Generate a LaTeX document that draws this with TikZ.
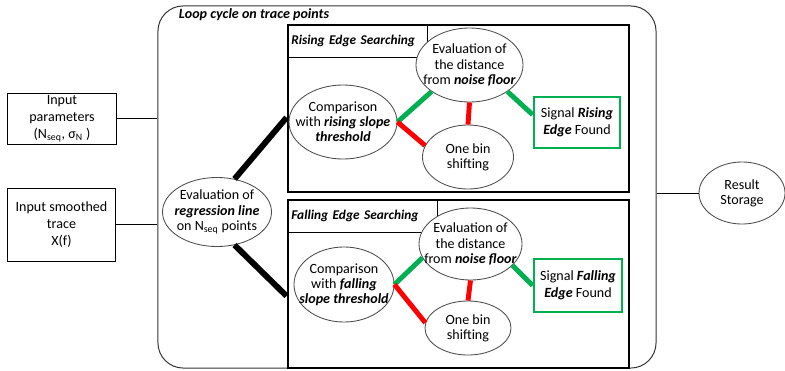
\documentclass[tikz,border=0pt]{standalone}
\usepackage{fontspec}
\setmainfont{Carlito}
\usetikzlibrary{shapes.geometric}
\definecolor{okgreen}{HTML}{00B050}
\definecolor{okred}{HTML}{FF0000}

\begin{document}
\begin{tikzpicture}[x=0.025cm, y=-0.025cm,
  every node/.style={font=\fontsize{10}{12}\selectfont},
  inbox/.style={draw, line width=0.7pt, align=center, inner sep=0pt},
  ell/.style={ellipse, draw=black!70, line width=0.6pt, fill=white, align=center, inner sep=-20pt, font=\fontsize{10}{10.8}\selectfont},
  searchbox/.style={draw, line width=2pt},
  headbox/.style={draw, line width=0.7pt, anchor=north west, inner xsep=3pt, align=left, font=\fontsize{9.5}{11}\selectfont\bfseries\itshape},
  foundbox/.style={draw=okgreen, line width=2pt, align=center, inner sep=0pt},
  yes/.style={okgreen, line width=3.5pt},
  no/.style={okred, line width=3.5pt},
  feed/.style={line width=4.2pt}]

\useasboundingbox (0,0) rectangle (785,370);

% loop frame
\node[draw=black!80, line width=0.7pt, rounded corners=18pt, minimum width=12.45cm, minimum height=9.05cm] (loop) at (407,187) {};
\node[anchor=west, font=\fontsize{10}{12}\selectfont\bfseries\itshape] (looptitle) at (174,15) {Loop cycle on trace points};

% searching blocks
\node[searchbox, minimum width=8.525cm, minimum height=4.175cm] (rise) at (458.5,108.5) {};
\node[headbox, text width=3.31cm, minimum height=0.825cm] (risehead) at (rise.north west) {Rising Edge Searching};
\node[searchbox, minimum width=8.525cm, minimum height=4.2cm] (fall) at (458.5,284) {};
\node[headbox, text width=3.54cm, minimum height=0.825cm] (fallhead) at (fall.north west) {Falling Edge Searching};

% rising edge
\node[ell, minimum width=2.7cm, minimum height=1.85cm] (cmpR) at (343,122) {Comparison\\with \textbf{\textit{rising slope}}\\\textbf{\textit{threshold}}};
\node[ell, minimum width=2.675cm, minimum height=1.85cm] (evalR) at (469.5,65) {Evaluation of\\the distance\\from \textbf{\textit{noise floor}}};
\node[ell, minimum width=2.275cm, minimum height=1.6cm] (binR) at (468,157) {One bin\\shifting};
\node[foundbox, minimum width=2.15cm, minimum height=1.275cm] (sigR) at (577,122.5) {Signal \textbf{\textit{Rising}}\\\textbf{\textit{Edge}} Found};

% falling edge
\node[ell, minimum width=2.5cm, minimum height=1.875cm] (cmpF) at (344,284.5) {Comparison\\with \textbf{\textit{falling}}\\\textbf{\textit{slope threshold}}};
\node[ell, minimum width=2.575cm, minimum height=1.8cm] (evalF) at (470.5,244) {Evaluation of\\the distance\\from \textbf{\textit{noise floor}}};
\node[ell, minimum width=2.15cm, minimum height=1.35cm] (binF) at (468,328) {One bin\\shifting};
\node[foundbox, minimum width=2.2cm, minimum height=1.325cm] (sigF) at (578,285.5) {Signal \textbf{\textit{Falling}}\\\textbf{\textit{Edge}} Found};

\node[ell, minimum width=2.725cm, minimum height=1.725cm] (reg) at (217,212) {Evaluation of\\\textbf{\textit{regression line}}\\on N\textsubscript{seq} points};

% inputs and output
\node[inbox, minimum width=2.7cm, minimum height=1.275cm] (inpar) at (62,118.5) {Input\\parameters\\(N\textsubscript{seq}, σ\textsubscript{N} )};
\node[inbox, minimum width=2.675cm, minimum height=1.825cm] (intrace) at (61.5,224.5) {Input smoothed\\trace\\X(f)};
\node[ell, minimum width=2.15cm, minimum height=1.55cm] (res) at (742,193) {Result\\Storage};

\draw[line width=0.7pt] (inpar.east) -- (inpar.east -| loop.west);
\draw[line width=0.7pt] (intrace.east) -- (intrace.east -| loop.west);
\draw[line width=0.7pt] (res.west -| loop.east) -- (res.west);

\draw[feed] (reg.62) -- (rise.183);
\draw[feed] (reg.-62) -- (fall.184);

\draw[yes] (cmpR.east) -- (evalR.215);
\draw[no] (cmpR.east) -- (binR.165);
\draw[no] (evalR.south) -- (binR.north);
\draw[yes] (evalR.-35) -- (sigR.170);

\draw[yes] (cmpF.east) -- (evalF.196);
\draw[no] (cmpF.east) -- (binF.173);
\draw[no] (evalF.south) -- (binF.north);
\draw[yes] (evalF.-27) -- (sigF.west);
\end{tikzpicture}
\end{document}
